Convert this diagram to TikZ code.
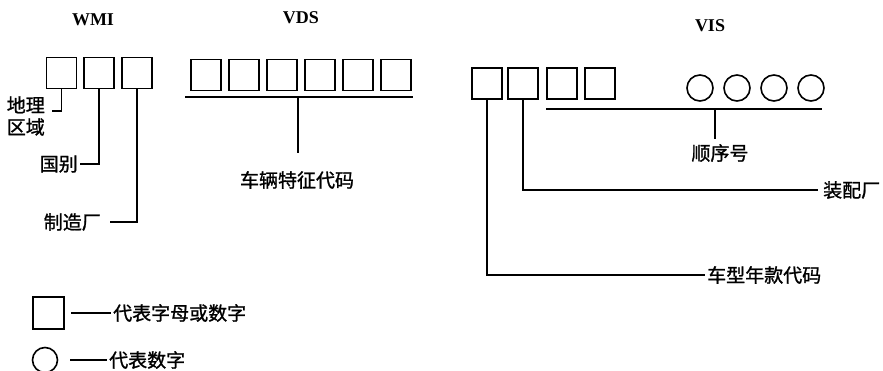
\documentclass[tikz,border=0pt]{standalone}
\usepackage{fontspec}
\setmainfont{Liberation Serif}
\newfontfamily\cjk[FakeBold=1.2]{Noto Sans CJK SC}
\begin{document}
\begin{tikzpicture}[x=1pt,y=-1pt,
  sq/.style={draw, line width=1.8pt, minimum width=30pt, minimum height=31pt, inner sep=0pt},
  ci/.style={draw, circle, line width=1.6pt, minimum size=26pt, inner sep=0pt},
  ln/.style={line width=1.4pt},
  cjklab/.style={font=\cjk\fontsize{19}{22}\selectfont, inner sep=0pt, align=left},
  head/.style={font=\bfseries\fontsize{18}{21}\selectfont, inner sep=0pt}]
\useasboundingbox (0,0) rectangle (883,370);
% headings
\node[head] (hwmi) at (93,20) {WMI};
\node[head] (hvds) at (301,18) {VDS};
\node[head] (hvis) at (710,26) {VIS};
% WMI boxes
\node[sq] (w1) at (61.5,73) {};
\node[sq] (w2) at (99,73) {};
\node[sq] (w3) at (137,73) {};
% WMI labels
\node[cjklab, anchor=east] (l1) at (45,116) {地理\\区域};
\node[cjklab, anchor=east] (l2) at (78,164) {国别};
\node[cjklab, anchor=east] (l3) at (101,222) {制造厂};
\coordinate (c1) at (52,111);
\coordinate (c2) at (80,164);
\coordinate (c3) at (110,222);
\draw[ln] (w1.south) |- (c1);
\draw[ln] (w2.south) |- (c2);
\draw[ln] (w3.south) |- (c3);
% VDS boxes
\foreach \i/\x in {1/206,2/244,3/282,4/320,5/358,6/396}
  \node[sq] (d\i) at (\x,75) {};
\coordinate (dl) at (185,97);
\coordinate (dr) at (413,97);
\coordinate (dm) at (298,97);
\draw[ln] (dl) -- (dr);
\node[cjklab] (lvds) at (297,180) {车辆特征代码};
\draw[ln] (dm) -- (298,153) coordinate (dme);
% VIS boxes
\node[sq] (v1) at (487,83.5) {};
\node[sq] (v2) at (523,83.5) {};
\node[sq] (v3) at (562,83.5) {};
\node[sq] (v4) at (600,83.5) {};
\foreach \i/\x in {1/700,2/737,3/774,4/811}
  \node[ci] (o\i) at (\x,88) {};
\coordinate (sl) at (546,109);
\coordinate (sr) at (822,109);
\coordinate (sm) at (715,109);
\draw[ln] (sl) -- (sr);
\draw[ln] (sm) -- (715,139) coordinate (sme);
\node[cjklab] (lsxh) at (720,153) {顺序号};
\node[cjklab, anchor=west] (lzp) at (823,190) {装配厂};
\coordinate (cz) at (818,190);
\draw[ln] (v2.south) |- (cz);
\node[cjklab, anchor=west] (lcx) at (707,275) {车型年款代码};
\coordinate (cc) at (705,275);
\draw[ln] (v1.south) |- (cc);
% legend
\node[sq, minimum width=31pt, minimum height=32pt] (lgs) at (48.5,313) {};
\coordinate (ga) at (71,313);
\coordinate (gb) at (111,313);
\draw[ln] (ga) -- (gb);
\node[cjklab, anchor=west] (lg1) at (113,313) {代表字母或数字};
\node[ci, minimum size=25pt] (lgc) at (45,360) {};
\coordinate (gc) at (70,360);
\coordinate (gd) at (107,360);
\draw[ln] (gc) -- (gd);
\node[cjklab, anchor=west] (lg2) at (109,360) {代表数字};
\end{tikzpicture}
\end{document}
